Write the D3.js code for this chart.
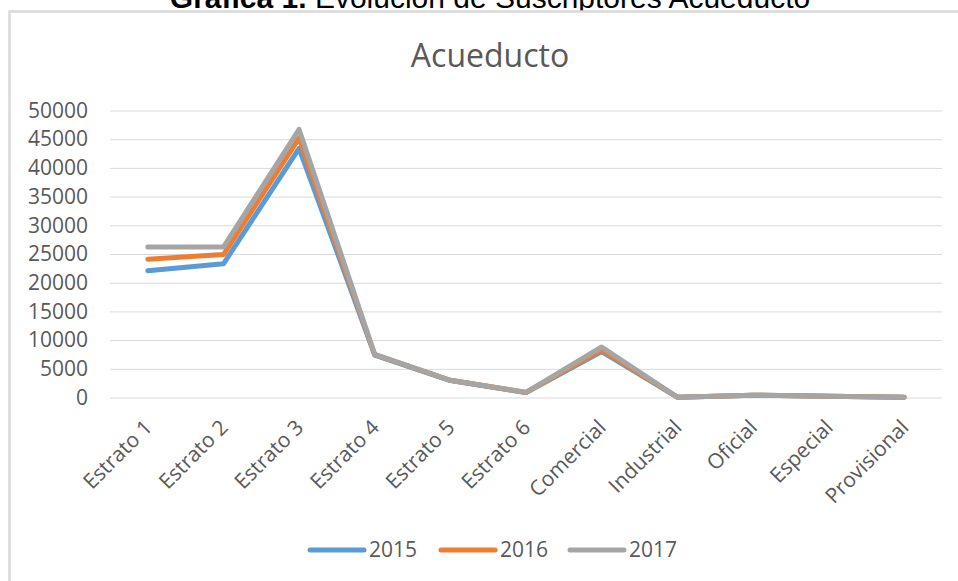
<!DOCTYPE html>
<html><head><meta charset="utf-8">
<script src="https://cdn.jsdelivr.net/npm/d3@7"></script>
<style>body{margin:0;background:#fff;overflow:hidden}svg{display:block}</style>
</head><body>
<script>
const categories = ["Estrato 1","Estrato 2","Estrato 3","Estrato 4","Estrato 5","Estrato 6","Comercial","Industrial","Oficial","Especial","Provisional"];
const years = ["2015","2016","2017"];
const values2015 = [22100, 23300, 43400, 7400, 2950, 850, 8000, 60, 400, 220, 30];
const values2016 = [24100, 24900, 45200, 7450, 3000, 880, 8300, 60, 400, 220, 30];
const values2017 = [26200, 26200, 46700, 7500, 3000, 900, 8800, 60, 400, 220, 30];
const yTicks = [0,5000,10000,15000,20000,25000,30000,35000,40000,45000,50000];
const colors = ["#5b9bd5","#ed7d31","#a5a5a5"];
const seriesValues = [values2015, values2016, values2017];

const W = 958, H = 581;
const svg = d3.select("body").append("svg").attr("width", W).attr("height", H);
const txt = "#595959";
const font = "'Open Sans', sans-serif";

// document caption (clipped at top)
const cap = svg.append("text").attr("x", 490).attr("y", 8).attr("text-anchor","middle")
  .attr("font-family","'Liberation Sans', Arial, sans-serif").attr("font-size", 30).attr("fill","#000");
cap.append("tspan").attr("font-weight","bold").text("Gráfica 1.");
cap.append("tspan").text(" Evolución de Suscriptores Acueducto");

// chart frame
svg.append("rect").attr("x", 9.5).attr("y", 11.5).attr("width", 1000).attr("height", 700)
  .attr("fill","#fff").attr("stroke","#d9d9d9").attr("stroke-width", 2.5);

// title
svg.append("text").attr("x", 490).attr("y", 67).attr("text-anchor","middle")
  .attr("font-family", font).attr("font-size", 32).attr("fill", txt).text("Acueducto");

const x = d3.scalePoint().domain(categories).range([110, 942]).padding(0.5);
const y = d3.scaleLinear().domain([0, 50000]).range([397.5, 110.5]);

// gridlines
const yAxis = d3.axisLeft(y).tickValues(yTicks).tickSize(-(942-110)).tickFormat(d3.format("d")).tickPadding(22);
const ga = svg.append("g").attr("transform","translate(110,0)").call(yAxis);
ga.select(".domain").remove();
ga.selectAll(".tick line").attr("stroke","#d9d9d9").attr("stroke-width",1);
ga.selectAll(".tick text").attr("font-family", font).attr("font-size", 21).attr("fill", txt);

// x labels
const xAxis = d3.axisBottom(x).tickSize(0).tickPadding(0);
const gx = svg.append("g").attr("transform","translate(0,397.5)").call(xAxis);
gx.select(".domain").remove();
gx.selectAll(".tick text")
  .attr("font-family", font).attr("font-size", 21).attr("fill", txt)
  .attr("text-anchor","end").attr("dy","0.35em").attr("y", 0)
  .attr("transform","translate(0,26) rotate(-45)");

// lines
const line = d3.line().x((d,i)=>x(categories[i])).y(d=>y(d));
seriesValues.forEach((vals, k) => {
  svg.append("path").datum(vals).attr("d", line).attr("fill","none")
    .attr("stroke", colors[k]).attr("stroke-width", 5)
    .attr("stroke-linejoin","round").attr("stroke-linecap","round");
});

// legend
const legX = [310, 441, 570];
years.forEach((yr, k) => {
  const g = svg.append("g").attr("transform", `translate(${legX[k]},550)`);
  g.append("line").attr("x1", 0).attr("x2", 54).attr("y1", 0).attr("y2", 0)
    .attr("stroke", colors[k]).attr("stroke-width", 5).attr("stroke-linecap","round");
  g.append("text").attr("x", 59).attr("y", 0).attr("dy","0.35em")
    .attr("font-family", font).attr("font-size", 21).attr("fill", txt).text(yr);
});
</script>
</body></html>
